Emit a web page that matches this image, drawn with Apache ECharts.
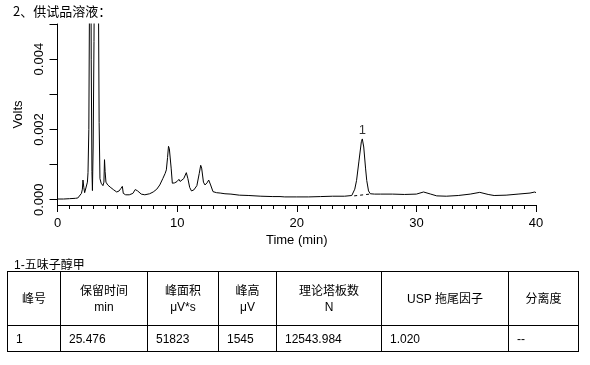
<!DOCTYPE html>
<html>
<head>
<meta charset="utf-8">
<script src="https://cdn.jsdelivr.net/npm/echarts@6/dist/echarts.min.js"></script>
<style>
  html, body { margin: 0; padding: 0; background: #fff; }
  #chart { position: absolute; left: 0; top: 0; width: 590px; height: 365px; }
  #ttl { position: absolute; left: 14px; top: 255px; font: 12px "Liberation Sans", "Noto Sans CJK SC", sans-serif; color: #000; }
  table { position: absolute; left: 7px; top: 271px; border-collapse: collapse; table-layout: fixed; width: 572px;
          font: 12px "Liberation Sans", "Noto Sans CJK SC", sans-serif; color: #000; }
  td { border: 1px solid #000; padding: 0; }
  tr.h td { height: 53px; text-align: center; line-height: 16px; }
  tr.b td { height: 25px; text-align: left; padding-left: 8px; }
</style>
</head>
<body>
<div id="chart"></div>
<div id="ttl">1-五味子醇甲</div>
<table id="tbl"></table>
<script>
// ---- chromatogram trace (time in min, signal in volts) ----
const times = [0, 0.5, 1.0, 1.5, 1.7, 1.85, 2.0, 2.08, 2.13, 2.2, 2.27, 2.4, 2.5, 2.55, 2.62, 2.68, 2.75, 2.82, 2.88, 2.92,
  2.98, 3.05, 3.15, 3.3, 3.42, 3.48, 3.55, 3.65, 3.8, 3.88, 3.93, 3.98, 4.05, 4.2, 4.4, 4.7, 4.95, 5.15, 5.3, 5.42,
  5.5, 5.7, 6.0, 6.3, 6.5, 6.7, 7.0, 7.3, 7.7, 8.0, 8.3, 8.55, 8.8, 9.0, 9.1, 9.2, 9.28, 9.35, 9.42, 9.5,
  9.6, 9.8, 10.0, 10.15, 10.25, 10.4, 10.55, 10.77, 10.9, 11.05, 11.2, 11.4, 11.65, 11.85, 11.97, 12.05, 12.2, 12.33, 12.5, 12.64,
  12.8, 13.0, 13.3, 13.6, 14.0, 14.5, 15.2, 16, 17, 18, 18.6, 19, 20, 21, 22, 23, 24, 24.6, 24.85, 25.0,
  25.2, 25.4, 25.48, 25.6, 25.75, 25.85, 26.0, 26.15, 26.5, 27, 28, 29, 30, 30.6, 31.2, 31.7, 32.5, 33.5, 34.5, 35.3,
  36, 36.5, 37.5, 38.5, 39.5, 39.9, 40];
const volts = [0.00002, 0.00002, 0.00003, 0.00004, 0.00005, 0.0001, 0.00018, 0.0003, 0.00056, 0.00035, 0.0002, 0.00025, 0.0005, 0.00077, 0.002, 0.006, 0.012, 0.004, 0.0008, 0.00026,
  0.0015, 0.0045, 0.01, 0.014, 0.006, 0.0022, 0.0006, 0.00047, 0.0004, 0.0005, 0.00114, 0.0008, 0.0005, 0.00042, 0.00036, 0.00028, 0.00022, 0.00025, 0.00032, 0.00038,
  0.00018, 0.00014, 0.00014, 0.00018, 0.00029, 0.00025, 0.00016, 0.00014, 0.00017, 0.00022, 0.0003, 0.00042, 0.0006, 0.00075, 0.00085, 0.0012, 0.00152, 0.00145, 0.0015, 0.0009,
  0.00047, 0.00048, 0.00052, 0.00058, 0.00052, 0.00049, 0.0006, 0.00077, 0.0006, 0.00035, 0.00025, 0.00028, 0.0004, 0.00075, 0.00098, 0.0009, 0.0005, 0.00042, 0.00048, 0.00056,
  0.00042, 0.00023, 0.0002, 0.00019, 0.00017, 0.00016, 0.00013, 0.00012, 0.0001, 0.00009, 0.00009, 0.00008, 0.00008, 0.00008, 0.00009, 0.0001, 0.0001, 0.00012, 0.0003, 0.00055,
  0.0011, 0.00165, 0.00173, 0.0015, 0.0009, 0.00055, 0.00025, 0.00017, 0.00016, 0.00016, 0.00016, 0.00015, 0.00016, 0.00022, 0.00016, 0.00011, 0.0001, 0.00012, 0.00016, 0.00021,
  0.00015, 0.00012, 0.00013, 0.00016, 0.00019, 0.00022, 0.0002];

// integration baseline under peak 1
const baseTimes = [24.8, 26.1];
const baseVolts = [0.00011, 0.00016];

// peak label
const peakTime = [25.476];
const peakVolt = [0.00173];
const peakName = ['1'];

// axis ticks
const yTicks = [0, 0.001, 0.002, 0.003, 0.004, 0.005];
const yLabels = [0, 0.002, 0.004];

// table
const tableHeader = ['峰号', '保留时间<br>min', '峰面积<br>μV*s', '峰高<br>μV', '理论塔板数<br>N', 'USP 拖尾因子', '分离度'];
const tableRow = ['1', '25.476', '51823', '1545', '12543.984', '1.020', '--'];
const colWidths = [53, 87, 71, 58, 105, 127, 70];

// build table
const tbl = document.getElementById('tbl');
let html = '<colgroup>' + colWidths.map(w => '<col style="width:' + w + 'px">').join('') + '</colgroup>';
html += '<tr class="h">' + tableHeader.map(h => '<td>' + h + '</td>').join('') + '</tr>';
html += '<tr class="b">' + tableRow.map(c => '<td>' + c + '</td>').join('') + '</tr>';
tbl.innerHTML = html;

const font = '"Liberation Sans", Arial, sans-serif';
const chart = echarts.init(document.getElementById('chart'), null, { renderer: 'canvas' });
chart.setOption({
  animation: false,
  title: {
    text: '2、供试品溶液：', left: 13, top: 5, padding: 0,
    textStyle: { fontSize: 13, fontWeight: 'normal', color: '#000', fontFamily: '"Noto Sans CJK SC", ' + font }
  },
  grid: { left: 57.5, right: 54, top: 24, bottom: 160, containLabel: false },
  xAxis: {
    type: 'value', min: 0, max: 40, interval: 10,
    name: 'Time (min)', nameLocation: 'middle', nameGap: 29,
    nameTextStyle: { fontSize: 13, color: '#000', fontFamily: font },
    axisLine: { show: true, onZero: false, lineStyle: { color: '#000', width: 1 } },
    axisTick: { show: true, length: 7, lineStyle: { color: '#000' } },
    minorTick: { show: true, splitNumber: 10, length: 4, lineStyle: { color: '#000' } },
    axisLabel: { fontSize: 13, color: '#000', margin: 12, fontFamily: font },
    splitLine: { show: false }
  },
  yAxis: {
    type: 'value', min: -0.00015, max: 0.005,
    name: 'Volts', nameLocation: 'middle', nameGap: 23,
    nameTextStyle: { fontSize: 13, color: '#000', fontFamily: font },
    axisLine: { show: true, onZero: false, lineStyle: { color: '#000', width: 1 } },
    axisTick: { show: true, length: 8, customValues: yTicks, lineStyle: { color: '#000' } },
    axisLabel: { fontSize: 13, color: '#000', rotate: 90, margin: 12, customValues: yLabels, fontFamily: font,
      formatter: v => Number(v).toFixed(3) },
    splitLine: { show: false }
  },
  series: [
    {
      type: 'line', data: times.map((t, i) => [t, volts[i]]),
      symbol: 'none', lineStyle: { color: '#000', width: 1 }, clip: true, silent: true
    },
    {
      type: 'line', data: baseTimes.map((t, i) => [t, baseVolts[i]]),
      symbol: 'none', lineStyle: { color: '#000', width: 1, type: [3, 3] }, silent: true
    },
    {
      type: 'scatter', data: peakTime.map((t, i) => [t, peakVolt[i]]), symbolSize: 0,
      label: { show: true, position: 'top', distance: 2, formatter: p => peakName[p.dataIndex],
        fontSize: 13, color: '#000', fontFamily: font },
      silent: true
    }
  ]
});
</script>
</body>
</html>
